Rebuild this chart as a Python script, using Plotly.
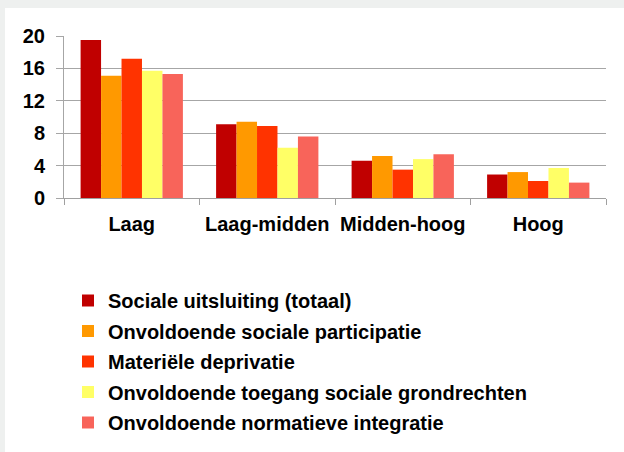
import plotly.graph_objects as go

categories = ["Laag", "Laag-midden", "Midden-hoog", "Hoog"]
series_names = [
    "Sociale uitsluiting (totaal)",
    "Onvoldoende sociale participatie",
    "Materiële deprivatie",
    "Onvoldoende toegang sociale grondrechten",
    "Onvoldoende normatieve integratie",
]
totaal = [19.5, 9.1, 4.6, 2.9]
participatie = [15.1, 9.4, 5.2, 3.2]
deprivatie = [17.2, 8.9, 3.5, 2.1]
grondrechten = [15.7, 6.2, 4.8, 3.7]
integratie = [15.3, 7.6, 5.4, 1.9]
series_values = [totaal, participatie, deprivatie, grondrechten, integratie]
colors = ["#C00000", "#FF9900", "#FF3300", "#FFFF66", "#F8645A"]
y_ticks = [0, 4, 8, 12, 16, 20]

FONT = "Arial, Liberation Sans, sans-serif"
FS = 20

fig = go.Figure()
for i, (name, vals, col) in enumerate(zip(series_names, series_values, colors)):
    fig.add_trace(go.Bar(
        x=categories, y=vals, name=name, legendgroup=f"g{i}",
        marker=dict(color=col, line=dict(width=0)),
    ))

# plot area in pixels: left 64, right 606, top 36, bottom 198
W, H = 624, 452
L, R, T, B = 64, 606, 36, 198
pw, ph = R - L, B - T

def px_x(p):
    return (p - L) / pw

def px_y(p):
    return (B - p) / ph

fig.update_layout(
    width=W, height=H,
    margin=dict(l=L, r=W - R, t=T, b=H - B, autoexpand=False),
    paper_bgcolor="white", plot_bgcolor="white",
    barmode="group", bargap=0.245, bargroupgap=0,
    font=dict(family=FONT, size=FS, color="black", weight="bold"),
    xaxis=dict(
        type="category", showgrid=False, showline=True, linecolor="#A0A0A0", linewidth=1,
        ticks="outside", ticklen=6, tickcolor="#A0A0A0", tickson="boundaries",
        ticklabelstandoff=8,
        tickfont=dict(family=FONT, size=FS, color="black", weight="bold"),
    ),
    yaxis=dict(
        range=[0, 20], tickvals=y_ticks, ticktext=[str(v) for v in y_ticks],
        showgrid=True, gridcolor="#A6A6A6", gridwidth=1,
        showline=True, linecolor="#A6A6A6", linewidth=1,
        ticks="outside", ticklen=7, tickcolor="#A6A6A6",
        ticklabelstandoff=7,
        zeroline=False,
        tickfont=dict(family=FONT, size=FS, color="black", weight="bold"),
    ),
    legend=dict(
        x=68 / W, y=1 - 281 / H, xanchor="left", yanchor="top",
        xref="container", yref="container",
        font=dict(family=FONT, size=FS, color="black", weight="bold"),
        bgcolor="rgba(0,0,0,0)", tracegroupgap=1.5, traceorder="grouped",
    ),
    showlegend=True,
    shapes=[
        dict(type="rect", xref="paper", yref="paper", x0=px_x(0), x1=px_x(5), y0=px_y(H), y1=px_y(0),
             fillcolor="#EEF0EF", line=dict(width=0), layer="below"),
        dict(type="rect", xref="paper", yref="paper", x0=px_x(0), x1=px_x(W), y0=px_y(8), y1=px_y(0),
             fillcolor="#EEF0EF", line=dict(width=0), layer="below"),
    ],
)

fig.write_html(
    "out.html",
    config={"displayModeBar": False},
    post_script="document.body.style.margin='0';document.body.style.overflow='hidden';",
)
